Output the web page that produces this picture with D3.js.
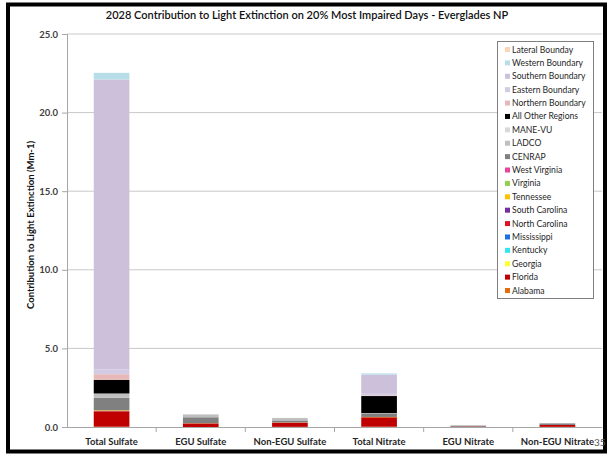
<!DOCTYPE html>
<html><head><meta charset="utf-8">
<script src="https://cdn.jsdelivr.net/npm/d3@7/dist/d3.min.js"></script>
<style>
html,body{margin:0;padding:0;background:#fff;}
svg{display:block;font-family:Lato,"Open Sans",sans-serif;}
</style></head>
<body>
<svg id="c" width="610" height="457"></svg>
<script>
const categories = ["Total Sulfate","EGU Sulfate","Non-EGU Sulfate","Total Nitrate","EGU Nitrate","Non-EGU Nitrate"];
// legend order (top to bottom); stacking is bottom-up in reverse order
const seriesNames = ["Lateral Bounday","Western Boundary","Southern Boundary","Eastern Boundary","Northern Boundary","All Other Regions","MANE-VU","LADCO","CENRAP","West Virginia","Virginia","Tennessee","South Carolina","North Carolina","Mississippi","Kentucky","Georgia","Florida","Alabama"];
const seriesColors = ["#fcd5b5","#b7dee8","#ccc0da","#d3cbe3","#e6b9b8","#000000","#d9d9d9","#bfbfbf","#808080","#e8449a","#92d050","#ffc000","#7030a0","#e0141e","#1f6fe0","#33e6f0","#ffff33","#c00000","#e46c0a"];
const lateralB   = [0,0,0,0,0,0];
const westernB   = [0.42,0,0,0.08,0,0];
const southernB  = [18.45,0,0,1.22,0,0];
const easternB   = [0.30,0,0,0.10,0,0];
const northernB  = [0.36,0,0,0.04,0,0];
const otherReg   = [0.87,0,0,1.08,0,0];
const maneVU     = [0.02,0.02,0.01,0,0,0];
const ladco      = [0.25,0.18,0.15,0.02,0,0.02];
const cenrap     = [0.80,0.38,0.13,0.23,0.06,0.10];
const westVa     = [0,0,0,0,0,0];
const virginia   = [0,0,0,0,0,0];
const tennessee  = [0.04,0.01,0.01,0.02,0,0];
const southCar   = [0.01,0,0,0,0,0];
const northCar   = [0.02,0,0,0,0,0];
const mississippi= [0,0,0,0,0,0];
const kentucky   = [0,0,0,0,0,0];
const georgia    = [0,0,0,0,0,0];
const florida    = [0.97,0.23,0.27,0.60,0.03,0.12];
const alabama    = [0.02,0,0.01,0.02,0,0.01];
const seriesValues = [lateralB,westernB,southernB,easternB,northernB,otherReg,maneVU,ladco,cenrap,westVa,virginia,tennessee,southCar,northCar,mississippi,kentucky,georgia,florida,alabama];
const yTicks = [0,5,10,15,20,25];
const title = "2028 Contribution to Light Extinction on 20% Most Impaired Days - Everglades NP";
const yTitle = "Contribution to Light Extinction (Mm-1)";

const svg = d3.select("#c");
const L = 67, R = 602, T = 34, B = 427;

// frame
svg.append("rect").attr("x",8).attr("y",4.5).attr("width",597).attr("height",447)
  .attr("fill","none").attr("stroke","#000").attr("stroke-width",4);

const x = d3.scaleBand().domain(categories).range([L,R]).paddingInner(0.6).paddingOuter(0.3);
const y = d3.scaleLinear().domain([0,25]).range([B,T]);

// gridlines
svg.append("g").selectAll("line").data(yTicks.filter(d=>d>0)).join("line")
  .attr("x1",L).attr("x2",R).attr("y1",d=>y(d)).attr("y2",d=>y(d))
  .attr("stroke","#c8c8c8").attr("stroke-width",1);

// stacked bars
const rows = categories.map((c,i)=>{const o={cat:c}; seriesNames.forEach((s,j)=>o[s]=seriesValues[j][i]); return o;});
const stackKeys = seriesNames.slice().reverse();
const colorOf = d3.scaleOrdinal().domain(seriesNames).range(seriesColors);
const stacked = d3.stack().keys(stackKeys)(rows);
svg.append("g").selectAll("g").data(stacked).join("g").attr("fill",d=>colorOf(d.key))
  .selectAll("rect").data(d=>d).join("rect")
  .attr("x",d=>x(d.data.cat)).attr("width",x.bandwidth())
  .attr("y",d=>y(d[1])).attr("height",d=>Math.max(0,y(d[0])-y(d[1])));

// y axis
const yAxis = d3.axisLeft(y).tickValues(yTicks).tickFormat(d3.format(".1f")).tickSize(5).tickPadding(4);
const gy = svg.append("g").attr("transform",`translate(${L},0)`).call(yAxis);
gy.select(".domain").attr("stroke","#a6a6a6");
gy.selectAll(".tick line").attr("stroke","#a6a6a6");
gy.selectAll("text").attr("font-size",9.5).attr("font-weight","bold").attr("fill","#404040").attr("font-family","Lato");

// x axis
const xAxis = d3.axisBottom(x).tickSize(0).tickPadding(11);
const gx = svg.append("g").attr("transform",`translate(0,${B})`).call(xAxis);
gx.select(".domain").attr("stroke","#a6a6a6").attr("d",`M${L},0.5H${R}`);
gx.selectAll("text").attr("font-size",9.5).attr("font-weight","bold").attr("fill","#262626").attr("font-family","Lato");
// category separator ticks
const seps = categories.slice(1).map(c=>x(c)-x.step()*x.paddingInner()/2);
svg.append("g").selectAll("line").data(seps).join("line")
  .attr("x1",d=>d).attr("x2",d=>d).attr("y1",B).attr("y2",B+5).attr("stroke","#a6a6a6");

// title
svg.append("text").attr("x",307).attr("y",19).attr("text-anchor","middle")
  .attr("font-size",11).attr("font-weight",600).attr("fill","#111").text(title);

// y title
svg.append("text").attr("transform","translate(34,225) rotate(-90)").attr("text-anchor","middle")
  .attr("font-size",9.5).attr("font-weight","bold").attr("fill","#111").text(yTitle);

// legend
const lg = svg.append("g");
lg.append("rect").attr("x",497.5).attr("y",41.5).attr("width",96).attr("height",257)
  .attr("fill","#fff").attr("stroke","#7f7f7f").attr("stroke-width",1);
const li = lg.selectAll("g.it").data(seriesNames).join("g").attr("class","it")
  .attr("transform",(d,i)=>`translate(505,${50+i*13.39})`);
li.append("rect").attr("x",0).attr("y",-3).attr("width",5).attr("height",5).attr("fill",d=>colorOf(d));
li.append("text").attr("x",7).attr("y",2.5).attr("font-size",8.6).attr("fill","#262626").text(d=>d);

// page number
svg.append("text").attr("x",594).attr("y",446).attr("font-size",10).attr("fill","#595959").text("35");
</script>
</body></html>
